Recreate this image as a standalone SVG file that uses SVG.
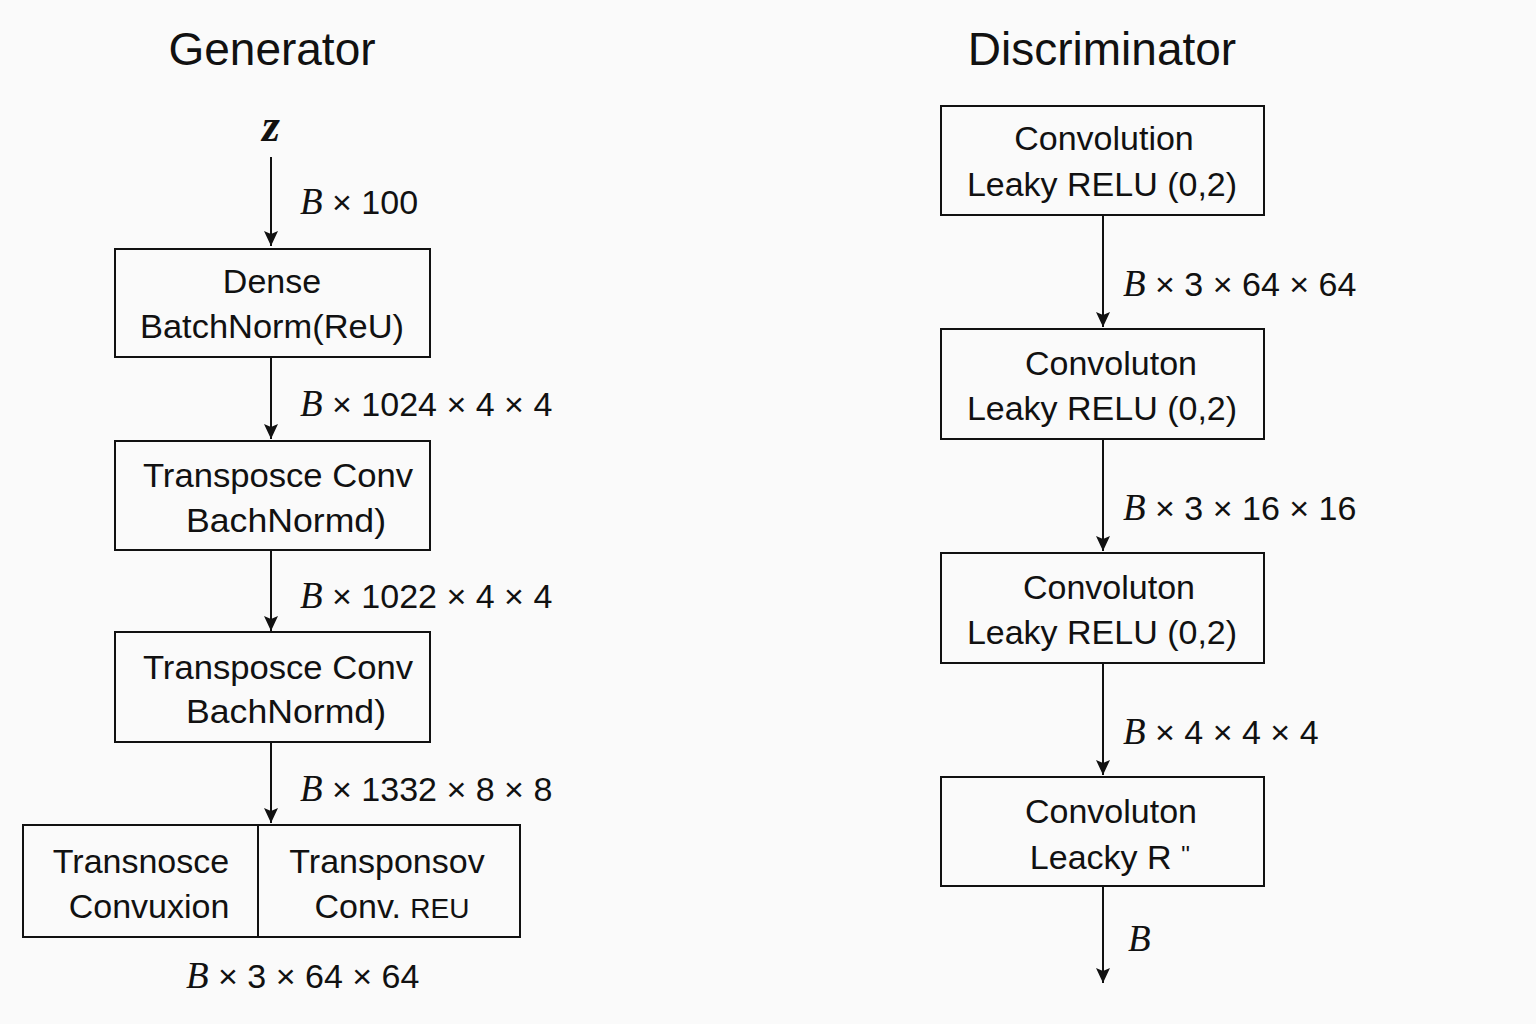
<svg xmlns="http://www.w3.org/2000/svg" width="1536" height="1024" viewBox="0 0 1536 1024">
<defs>
<marker id="ah" markerWidth="16" markerHeight="16" refX="15" refY="8" orient="auto" markerUnits="userSpaceOnUse" viewBox="0 0 16 16">
<path d="M0,1 L15,8 L0,15 L3,8 Z" fill="#111"/>
</marker>
<style>
.box{fill:none;stroke:#111;stroke-width:2}
.t{font-family:"Liberation Sans",Arial,sans-serif;font-size:34px;fill:#111;text-anchor:middle}
.title{font-family:"Liberation Sans",Arial,sans-serif;font-size:46px;fill:#111;text-anchor:middle}
.lbl{font-family:"Liberation Sans",Arial,sans-serif;font-size:34px;fill:#111}
.b{font-family:"Liberation Serif","Times New Roman",serif;font-style:italic;font-size:37px}
.ln{stroke:#111;stroke-width:2;fill:none;marker-end:url(#ah)}
</style>
</defs>
<rect width="1536" height="1024" fill="#fafafa"/>
<text class="title" x="272" y="65">Generator</text>
<text class="title" x="1102" y="65">Discriminator</text>
<text x="271" y="141" font-family="Liberation Serif,serif" font-style="italic" font-weight="bold" font-size="46" text-anchor="middle" fill="#111">z</text>

<g id="connectors">
<line class="ln" x1="271" y1="157" x2="271" y2="246"/>
<line class="ln" x1="271" y1="357" x2="271" y2="439"/>
<line class="ln" x1="271" y1="550" x2="271" y2="631"/>
<line class="ln" x1="271" y1="742" x2="271" y2="823"/>
<line class="ln" x1="1103" y1="215" x2="1103" y2="327"/>
<line class="ln" x1="1103" y1="439" x2="1103" y2="551"/>
<line class="ln" x1="1103" y1="663" x2="1103" y2="775"/>
<line class="ln" x1="1103" y1="886" x2="1103" y2="983"/>
</g>

<g id="labels">
<text class="lbl" x="300" y="214"><tspan class="b">B</tspan> × 100</text>
<text class="lbl" x="300" y="416"><tspan class="b">B</tspan> × 1024 × 4 × 4</text>
<text class="lbl" x="300" y="608"><tspan class="b">B</tspan> × 1022 × 4 × 4</text>
<text class="lbl" x="300" y="801"><tspan class="b">B</tspan> × 1332 × 8 × 8</text>
<text class="lbl" x="186" y="988"><tspan class="b">B</tspan> × 3 × 64 × 64</text>
<text class="lbl" x="1123" y="296"><tspan class="b">B</tspan> × 3 × 64 × 64</text>
<text class="lbl" x="1123" y="520"><tspan class="b">B</tspan> × 3 × 16 × 16</text>
<text class="lbl" x="1123" y="744"><tspan class="b">B</tspan> × 4 × 4 × 4</text>
<text class="lbl" x="1128" y="951"><tspan class="b">B</tspan></text>
</g>

<g id="g-dense">
<rect class="box" x="115" y="249" width="315" height="108"/>
<text class="t" x="272" y="293">Dense</text>
<text class="t" x="272" y="338" textLength="264" lengthAdjust="spacingAndGlyphs">BatchNorm(ReU)</text>
</g>
<g id="g-tconv1">
<rect class="box" x="115" y="441" width="315" height="109"/>
<text class="t" x="278" y="487" textLength="270" lengthAdjust="spacingAndGlyphs">Transposce Conv</text>
<text class="t" x="286" y="532" textLength="200" lengthAdjust="spacingAndGlyphs">BachNormd)</text>
</g>
<g id="g-tconv2">
<rect class="box" x="115" y="632" width="315" height="110"/>
<text class="t" x="278" y="679" textLength="270" lengthAdjust="spacingAndGlyphs">Transposce Conv</text>
<text class="t" x="286" y="723" textLength="200" lengthAdjust="spacingAndGlyphs">BachNormd)</text>
</g>
<g id="g-out">
<rect class="box" x="23" y="825" width="497" height="112"/>
<line x1="258" y1="825" x2="258" y2="937" stroke="#111" stroke-width="2"/>
<text class="t" x="141" y="873">Transnosce</text>
<text class="t" x="149" y="918">Convuxion</text>
<text class="t" x="387" y="873">Transponsov</text>
<text class="t" x="392" y="918">Conv. <tspan font-size="28">REU</tspan></text>
</g>

<g id="d-conv1">
<rect class="box" x="941" y="106" width="323" height="109"/>
<text class="t" x="1104" y="150">Convolution</text>
<text class="t" x="1102" y="196">Leaky RELU (0,2)</text>
</g>
<g id="d-conv2">
<rect class="box" x="941" y="329" width="323" height="110"/>
<text class="t" x="1111" y="375">Convoluton</text>
<text class="t" x="1102" y="420">Leaky RELU (0,2)</text>
</g>
<g id="d-conv3">
<rect class="box" x="941" y="553" width="323" height="110"/>
<text class="t" x="1109" y="599">Convoluton</text>
<text class="t" x="1102" y="644">Leaky RELU (0,2)</text>
</g>
<g id="d-conv4">
<rect class="box" x="941" y="777" width="323" height="109"/>
<text class="t" x="1111" y="823">Convoluton</text>
<text class="t" x="1110" y="869">Leacky R <tspan font-size="24" dy="-6">''</tspan></text>
</g>
</svg>
